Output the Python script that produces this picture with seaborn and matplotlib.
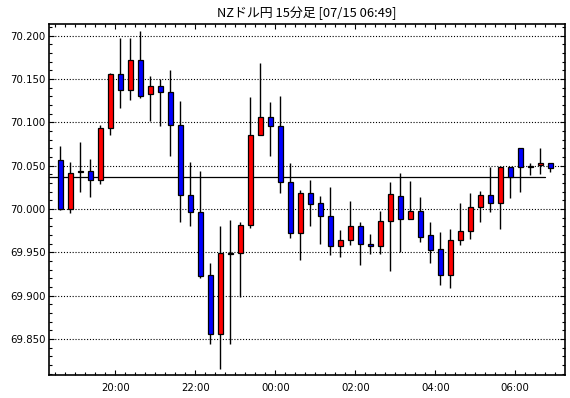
import numpy as np
import pandas as pd
import matplotlib
matplotlib.use("Agg")
import matplotlib.pyplot as plt
from matplotlib.ticker import MultipleLocator, FixedLocator, FormatStrFormatter
import seaborn as sns

# ---- data ----
opens = [70.057, 70.000, 70.043, 70.044, 70.034, 70.093, 70.156, 70.137, 70.172, 70.133,
         70.142, 70.135, 70.097, 70.016, 69.997, 69.924, 69.856, 69.949, 69.949, 69.982,
         70.086, 70.106, 70.096, 70.031, 69.972, 70.018, 70.007, 69.992, 69.957, 69.964,
         69.981, 69.960, 69.957, 69.986, 70.015, 69.989, 69.998, 69.970, 69.954, 69.924,
         69.964, 69.975, 70.002, 70.016, 70.007, 70.049, 70.070, 70.048, 70.051, 70.053]
highs = [70.073, 70.054, 70.077, 70.058, 70.097, 70.157, 70.197, 70.197, 70.206, 70.154,
         70.150, 70.160, 70.125, 70.054, 70.044, 69.938, 69.980, 69.987, 69.985, 70.129,
         70.168, 70.123, 70.130, 70.053, 70.022, 70.033, 70.015, 70.025, 69.976, 70.009,
         69.985, 69.971, 69.998, 70.031, 70.042, 70.032, 70.014, 69.985, 69.973, 69.977,
         70.007, 70.019, 70.021, 70.048, 70.049, 70.049, 70.070, 70.053, 70.071, 70.053]
lows = [69.999, 69.996, 70.020, 70.014, 70.029, 70.086, 70.117, 70.126, 70.128, 70.102,
        70.096, 70.061, 69.985, 69.980, 69.920, 69.844, 69.815, 69.844, 69.899, 69.978,
        70.085, 70.061, 70.019, 69.967, 69.941, 69.981, 69.960, 69.947, 69.945, 69.959,
        69.936, 69.948, 69.948, 69.929, 69.950, 69.989, 69.962, 69.938, 69.912, 69.909,
        69.958, 69.965, 69.985, 69.997, 69.977, 70.013, 70.020, 70.039, 70.040, 70.043]
closes = [70.000, 70.042, 70.043, 70.034, 70.093, 70.156, 70.137, 70.172, 70.131, 70.142,
          70.135, 70.097, 70.016, 69.997, 69.923, 69.856, 69.949, 69.948, 69.982, 70.086,
          70.106, 70.096, 70.031, 69.972, 70.018, 70.006, 69.992, 69.957, 69.964, 69.981,
          69.960, 69.957, 69.986, 70.017, 69.989, 69.998, 69.968, 69.953, 69.924, 69.964,
          69.975, 70.002, 70.016, 70.007, 70.049, 70.037, 70.048, 70.050, 70.053, 70.047]
start_time = "2024-07-14 18:30"
ref_level = 70.037
x_tick_labels = ["20:00", "22:00", "00:00", "02:00", "04:00", "06:00"]
title = "NZドル円 15分足 [07/15 06:49]"

times = pd.date_range(start_time, periods=len(opens), freq="15min")
df = pd.DataFrame({"time": times, "open": opens, "high": highs, "low": lows, "close": closes})
t0 = df["time"].iloc[0]
df["slot"] = (df["time"] - t0) / pd.Timedelta(minutes=15)
df["x"] = df["slot"] + 0.5

def col(r):
    if r["close"] > r["open"]:
        return "#FF0000"
    if r["close"] < r["open"]:
        return "#0000FF"
    return "#000000"
df["color"] = df.apply(col, axis=1)

sns.set_style("ticks")
plt.rcParams["font.family"] = ["DejaVu Sans"]

fig = plt.figure(figsize=(5.70, 3.98), dpi=100)
ax = fig.add_axes([49.3 / 570, 1 - 375 / 398, (565 - 49.3) / 570, (375 - 24.3) / 398])

# grid
ax.set_axisbelow(True)
ax.yaxis.grid(True, which="major", color="black", linestyle=(0, (1, 1.6)), linewidth=0.8)
ax.xaxis.grid(False)

# reference line
ref = pd.DataFrame({"x": [-0.6, 48.93], "y": [ref_level, ref_level]})
sns.lineplot(data=ref, x="x", y="y", color="black", linewidth=0.9, ax=ax, zorder=2)

# wicks
ax.vlines(df["x"], df["low"], df["high"], color="black", linewidth=1.0, zorder=3)
# bodies
bottoms = np.minimum(df["open"], df["close"])
heights = np.abs(df["close"] - df["open"])
heights = np.where(heights < 0.0008, 0.0008, heights)
ax.bar(df["x"], heights, bottom=bottoms, width=0.52, color=df["color"],
       edgecolor="black", linewidth=0.9, zorder=4)

ax.set_xlim(-0.6, 50.97)
ax.set_ylim(69.8085, 70.2132)

# ticks
time_slots = [((pd.Timestamp(t0.date()) + pd.Timedelta(days=1 if lab < "18" else 0)
                + pd.Timedelta(hours=int(lab[:2]))) - t0) / pd.Timedelta(minutes=15)
              for lab in x_tick_labels]
ax.xaxis.set_major_locator(FixedLocator(time_slots))
ax.set_xticklabels(x_tick_labels)
ax.xaxis.set_minor_locator(MultipleLocator(1))
ax.yaxis.set_major_locator(MultipleLocator(0.05))
ax.yaxis.set_minor_locator(MultipleLocator(0.01))
ax.yaxis.set_major_formatter(FormatStrFormatter("%.3f"))

ax.tick_params(axis="both", which="both", direction="in", top=True, right=True,
               color="black", width=0.8, labelsize=7.3, labelcolor="black")
ax.tick_params(axis="both", which="major", length=3.8, pad=2.5)
ax.tick_params(axis="both", which="minor", length=2.2)
ax.tick_params(axis="x", which="major", pad=6)

for s in ax.spines.values():
    s.set_visible(True)
    s.set_color("black")
    s.set_linewidth(1.2)

ax.set_xlabel("")
ax.set_ylabel("")

fig.text((49.3 + 565) / 2 / 570, 1 - 13.5 / 398, title, ha="center", va="center",
         fontsize=9.3, family=["Noto Sans CJK JP", "DejaVu Sans"], color="black")

fig.savefig("out.png", dpi=100, facecolor="white")
